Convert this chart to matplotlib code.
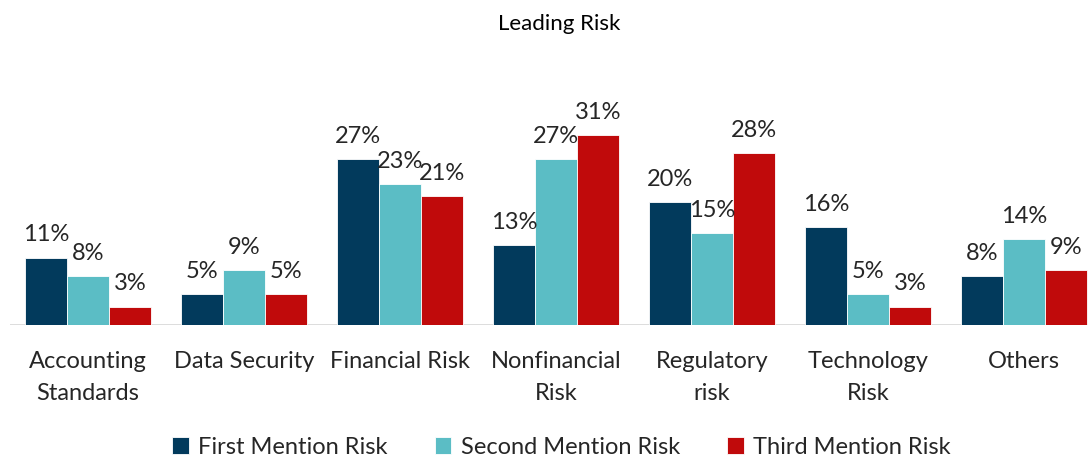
import numpy as np
import matplotlib
matplotlib.use('Agg')
import matplotlib.pyplot as plt

categories = ['Accounting\nStandards', 'Data Security', 'Financial Risk', 'Nonfinancial\nRisk',
              'Regulatory\nrisk', 'Technology\nRisk', 'Others']
series_names = ['First Mention Risk', 'Second Mention Risk', 'Third Mention Risk']
first = [11, 5, 27, 13, 20, 16, 8]
second = [8, 9, 23, 27, 15, 5, 14]
third = [3, 5, 21, 31, 28, 3, 9]
colors = ['#023A5C', '#5BBDC5', '#C00A0B']

plt.rcParams['font.family'] = ['Lato', 'DejaVu Sans']
txt = '#262626'

fig = plt.figure(figsize=(10.88, 4.59), dpi=100)
ax = fig.add_axes([10 / 1088, 1 - 325 / 459, 1078 / 1088, 230 / 459])

x = np.arange(len(categories))
w = 0.269
for i, (vals, name) in enumerate(zip([first, second, third], series_names)):
    pos = x + (i - 1) * w
    ax.bar(pos, vals, w, color=colors[i], edgecolor='white', linewidth=0.6, label=name, zorder=2)
    for p, v in zip(pos, vals):
        ax.text(p, v + 2.0, f'{v}%', ha='center', va='bottom', fontsize=17, color=txt)

ax.set_xlim(-0.5, 6.41)
ax.set_ylim(0, 37.5)
ax.axhline(0, color='#D9D9D9', linewidth=2, zorder=1)
for s in ax.spines.values():
    s.set_visible(False)
ax.set_yticks([])
ax.set_xticks(x)
ax.set_xticklabels(categories, fontsize=17, color=txt, linespacing=1.6)
ax.tick_params(axis='x', length=0, pad=19)

fig.text(0.514, 1 - 24 / 459, 'Leading Risk', ha='center', va='center', fontsize=16, color='black')

fig.legend(loc='center', bbox_to_anchor=(0.516, 1 - 447 / 459), ncol=3, frameon=False,
           prop={'size': 17}, labelcolor=txt, handlelength=0.7, handleheight=0.7,
           handletextpad=0.4, columnspacing=2.0)

fig.savefig('out.png', dpi=100)
